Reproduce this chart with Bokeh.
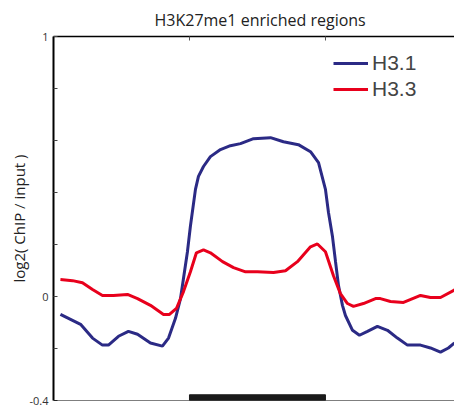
from bokeh.plotting import figure
from bokeh.models import Range1d, LinearAxis, FixedTicker, Legend, LegendItem, Span
from bokeh.embed import file_html
from bokeh.resources import INLINE

# Positions relative to the enriched region (region spans 0..1)
h31_x = [-0.949, -0.801, -0.713, -0.640, -0.596, -0.522, -0.449, -0.382, -0.287, -0.199,
         -0.154, -0.103, -0.066, -0.015, 0.007, 0.044, 0.066, 0.103, 0.154, 0.228, 0.301,
         0.375, 0.471, 0.596, 0.691, 0.801, 0.890, 0.949, 1.000, 1.022, 1.051, 1.074,
         1.096, 1.125, 1.147, 1.199, 1.250, 1.309, 1.382, 1.456, 1.529, 1.603, 1.699,
         1.772, 1.846, 1.904, 1.949]
h31_y = [-0.069, -0.107, -0.160, -0.187, -0.187, -0.153, -0.134, -0.145, -0.179, -0.191,
         -0.160, -0.084, -0.008, 0.172, 0.271, 0.412, 0.462, 0.500, 0.538, 0.565, 0.580,
         0.588, 0.607, 0.611, 0.595, 0.584, 0.557, 0.515, 0.412, 0.324, 0.233, 0.134,
         0.042, -0.034, -0.073, -0.130, -0.149, -0.134, -0.115, -0.130, -0.160, -0.187,
         -0.187, -0.198, -0.214, -0.198, -0.179]

h33_x = [-0.949, -0.860, -0.787, -0.713, -0.640, -0.559, -0.456, -0.382, -0.287, -0.235,
         -0.191, -0.147, -0.096, -0.044, 0.007, 0.051, 0.103, 0.154, 0.243, 0.324, 0.412,
         0.500, 0.618, 0.706, 0.794, 0.890, 0.941, 1.000, 1.059, 1.110, 1.162, 1.206,
         1.279, 1.368, 1.404, 1.478, 1.574, 1.699, 1.772, 1.846, 1.941, 1.949]
h33_y = [0.065, 0.061, 0.053, 0.027, 0.004, 0.004, 0.008, -0.008, -0.034, -0.053,
         -0.069, -0.069, -0.046, 0.019, 0.095, 0.168, 0.179, 0.168, 0.134, 0.111, 0.095,
         0.095, 0.092, 0.099, 0.134, 0.191, 0.202, 0.172, 0.080, 0.011, -0.027, -0.038,
         -0.027, -0.008, -0.008, -0.019, -0.023, 0.004, -0.004, -0.004, 0.023, 0.027]

region = [0.0, 1.0]
y_ticks = [-0.4, -0.2, 0.0, 0.2, 0.4, 0.6, 0.8, 1.0]
y_tick_labels = {-0.4: "-0.4", 0.0: "0", 1.0: "1"}

p = figure(width=454, height=407, output_backend="svg", toolbar_location=None,
           x_range=Range1d(-1.0, 1.949), y_range=Range1d(-0.4, 1.0),
           x_axis_location=None, y_axis_location=None,
           min_border_left=53, min_border_right=0, min_border_top=36, min_border_bottom=7,
           title="H3K27me1 enriched regions")
p.outline_line_color = None
p.grid.visible = False
p.title.align = "left"
p.title.offset = 101
p.title.text_font = "Open Sans"
p.title.text_font_style = "normal"
p.title.text_font_size = "16px"
p.title.text_color = "#222222"
p.title.standoff = 11

# left axis
ya = LinearAxis(ticker=FixedTicker(ticks=y_ticks))
ya.major_label_overrides = {t: y_tick_labels.get(t, "") for t in y_ticks}
ya.major_tick_in = 4
ya.major_tick_out = 0
ya.minor_tick_line_color = None
ya.axis_line_width = 2
ya.major_tick_line_color = "#444444"
ya.major_label_text_font = "Open Sans"
ya.major_label_text_font_size = "11px"
ya.major_label_text_color = "#333333"
ya.major_label_standoff = 5
ya.axis_label = "log2( ChIP / input )"
ya.axis_label_text_font = "Open Sans"
ya.axis_label_text_font_style = "normal"
ya.axis_label_text_font_size = "15px"
ya.axis_label_text_color = "#222222"
ya.axis_label_standoff = -3
p.add_layout(ya, "left")

# top axis (border with ticks at region edges)
ta = LinearAxis(ticker=FixedTicker(ticks=region))
ta.major_tick_in = 4
ta.major_tick_out = 0
ta.minor_tick_line_color = None
ta.major_label_text_font_size = "0px"
ta.major_label_standoff = 0
ta.axis_line_width = 1.3
ta.major_tick_line_color = "#555555"
p.add_layout(ta, "above")

# bottom border
p.add_layout(Span(location=-0.4, dimension="width", line_color="black", line_width=1))

# region bar
p.quad(left=[region[0]], right=[region[1]], bottom=[-0.4], top=[-0.378],
       fill_color="#1a1a1a", line_color="#1a1a1a")

r1 = p.line(h31_x, h31_y, line_color="#2b2a85", line_width=3)
r2 = p.line(h33_x, h33_y, line_color="#e8001c", line_width=3)

legend = Legend(items=[LegendItem(label="H3.1", renderers=[r1]),
                       LegendItem(label="H3.3", renderers=[r2])],
                location=(280, 299), padding=0, margin=0, spacing=2,
                glyph_width=35, glyph_height=20, label_height=20, label_standoff=4,
                label_text_font="Liberation Sans", label_text_font_size="21px",
                border_line_color=None, background_fill_alpha=0)
p.add_layout(legend, "center")

open("out.html", "w").write(file_html(p, INLINE))
